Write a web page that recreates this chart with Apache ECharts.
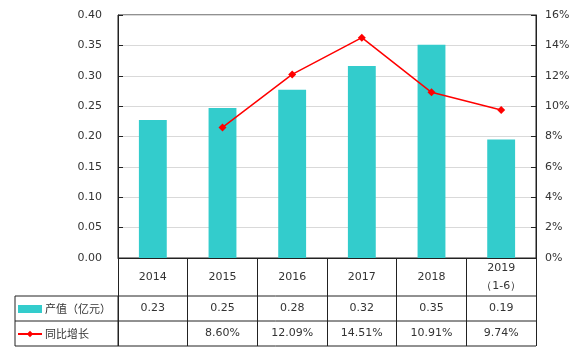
<!DOCTYPE html>
<html>
<head>
<meta charset="utf-8">
<script src="https://cdn.jsdelivr.net/npm/echarts@6/dist/echarts.min.js"></script>
<style>
  html, body { margin: 0; padding: 0; background: #fff; }
  #chart { width: 576px; height: 352px; }
</style>
</head>
<body>
<div id="chart"></div>
<script>
// 数据
const categories = ['2014', '2015', '2016', '2017', '2018', '2019\n（1-6）']
const outputValue = [0.227, 0.247, 0.277, 0.316, 0.351, 0.195] // 产值（亿元）
const outputLabels = ['0.23', '0.25', '0.28', '0.32', '0.35', '0.19']
const growth = [null, 8.60, 12.09, 14.51, 10.91, 9.74] // 同比增长 %
const leftTicks = [0, 0.4, 0.05]
const rightTicks = [0, 16, 2]

const gridLeft = 118
const gridRight = 40
const gridTop = 15
const gridBottom = 94
const tableLeft = 15
const rowH = [38, 25, 25]
const font = 'DejaVu Sans, Verdana, sans-serif'
const cjkFont = '"Noto Sans CJK SC", DejaVu Sans, sans-serif'

const chart = echarts.init(document.getElementById('chart'))

const option = {
  animation: false,
  grid: {
    left: gridLeft,
    right: gridRight,
    top: gridTop,
    bottom: gridBottom,
    show: true,
    borderColor: '#222',
    borderWidth: 1
  },
  legend: {
    orient: 'vertical',
    left: 17,
    top: 301,
    padding: 0,
    itemWidth: 24,
    itemHeight: 8,
    itemGap: 9,
    textStyle: { fontFamily: cjkFont, fontSize: 11, color: '#333', lineHeight: 16, padding: [0, 0, 0, -2] },
    data: [{ name: '产值（亿元）', icon: 'rect' }, '同比增长']
  },
  xAxis: {
    type: 'category',
    data: categories,
    axisLine: { lineStyle: { color: '#222' } },
    axisTick: { show: true, length: 88, lineStyle: { color: '#222' } },
    axisLabel: {
      margin: 19,
      verticalAlign: 'middle',
      lineHeight: 18,
      fontFamily: font,
      fontSize: 11,
      color: '#333',
      interval: 0
    }
  },
  yAxis: [
    {
      type: 'value',
      min: leftTicks[0],
      max: leftTicks[1],
      interval: leftTicks[2],
      axisLine: { show: true, lineStyle: { color: '#222' } },
      axisTick: { show: true, inside: true, length: 5, lineStyle: { color: '#222' } },
      splitLine: { lineStyle: { color: '#d9d9d9' } },
      axisLabel: {
        margin: 16,
        fontFamily: font,
        fontSize: 11,
        color: '#333',
        formatter: v => v.toFixed(2)
      }
    },
    {
      type: 'value',
      min: rightTicks[0],
      max: rightTicks[1],
      interval: rightTicks[2],
      axisLine: { show: true, lineStyle: { color: '#222' } },
      axisTick: { show: true, inside: true, length: 5, lineStyle: { color: '#222' } },
      splitLine: { show: false },
      axisLabel: {
        margin: 9,
        fontFamily: font,
        fontSize: 11,
        color: '#333',
        formatter: v => v + '%'
      }
    }
  ],
  series: [
    {
      name: '产值（亿元）',
      type: 'bar',
      data: outputValue,
      barWidth: '40%',
      itemStyle: { color: '#33CCCC' }
    },
    {
      name: '同比增长',
      type: 'line',
      yAxisIndex: 1,
      data: growth,
      symbol: 'diamond',
      symbolSize: 8,
      lineStyle: { color: '#FF0000', width: 1.5 },
      itemStyle: { color: '#FF0000' }
    }
  ]
}
chart.setOption(option)

// 表格部分
function drawTable () {
  const right = 576 - gridRight
  const y0 = 352 - gridBottom
  const y1 = y0 + rowH[0]
  const y2 = y1 + rowH[1]
  const y3 = y2 + rowH[2]
  const line = (x1, yA, x2, yB) => ({
    type: 'line',
    shape: { x1: x1, y1: yA, x2: x2, y2: yB },
    style: { stroke: '#222', lineWidth: 1 }
  })
  const elements = [
    line(tableLeft, y1, right, y1),
    line(tableLeft, y2, right, y2),
    line(tableLeft, y3, right, y3),
    line(tableLeft, y1, tableLeft, y3),
    line(gridLeft, y1, gridLeft, y3)
  ]
  const text = (x, y, s) => ({
    type: 'text',
    x: x,
    y: y,
    style: {
      text: s,
      fontFamily: font,
      fontSize: 11,
      fill: '#333',
      align: 'center',
      verticalAlign: 'middle'
    }
  })
  categories.forEach((c, i) => {
    const cx = chart.convertToPixel({ xAxisIndex: 0 }, i)
    elements.push(text(cx, (y1 + y2) / 2, outputLabels[i]))
    if (growth[i] != null) {
      elements.push(text(cx, (y2 + y3) / 2, growth[i].toFixed(2) + '%'))
    }
  })
  chart.setOption({ graphic: { elements: elements } })
}
drawTable()
</script>
</body>
</html>
